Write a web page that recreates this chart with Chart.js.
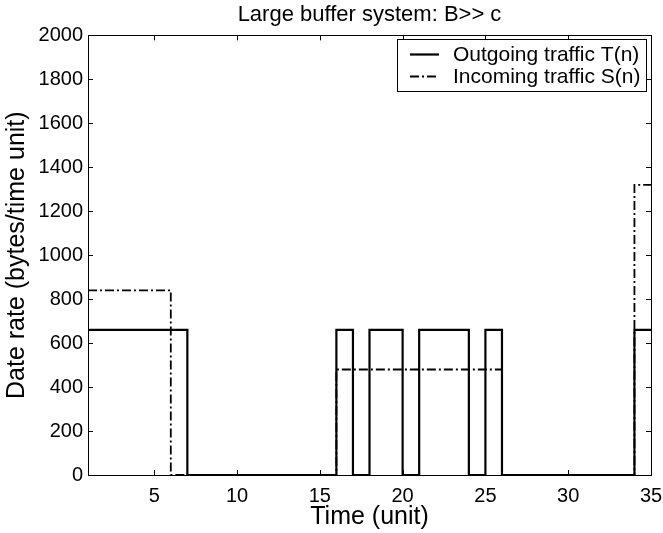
<!DOCTYPE html>
<html>
<head>
<meta charset="utf-8">
<script src="https://cdn.jsdelivr.net/npm/chart.js@4/dist/chart.umd.min.js"></script>
<style>
  html, body { margin: 0; padding: 0; background: #fff; }
  #wrap { width: 663px; height: 533px; position: relative; }
</style>
</head>
<body>
<div id="wrap"><canvas id="c" width="663" height="533"></canvas></div>
<script>
// ---- Data ----
const timeSteps = [1,2,3,4,5,6,7,8,9,10,11,12,13,14,15,16,17,18,19,20,21,22,23,24,25,26,27,28,29,30,31,32,33,34,35];
// value held over [n, n+1)
const outgoingT = [660,660,660,660,660,660,0,0,0,0,0,0,0,0,0,660,0,660,660,0,660,660,660,0,660,0,0,0,0,0,0,0,0,660,660];
const incomingS = [840,840,840,840,840,0,0,0,0,0,0,0,0,0,0,480,480,480,480,480,480,480,480,480,480,0,0,0,0,0,0,0,0,1320,1320];
const xTickValues = [5,10,15,20,25,30,35];
const yTickValues = [0,200,400,600,800,1000,1200,1400,1600,1800,2000];
const seriesLabels = ['Outgoing traffic T(n)', 'Incoming traffic S(n)'];
const titleText = 'Large buffer system: B>> c';
const xTitle = 'Time (unit)';
const yTitle = 'Date rate (bytes/time unit)';

const FONT = '"Liberation Sans", Arial, Helvetica, sans-serif';
const DASH = [9, 3, 2, 3];

const toPts = (xs, ys) => xs.map((x, i) => ({ x: x, y: ys[i] }));

const insideTicks = {
  id: 'insideTicks',
  afterDraw(chart) {
    const { ctx, chartArea: a, scales } = chart;
    ctx.save();
    ctx.strokeStyle = '#000';
    ctx.lineWidth = 1;
    const L = 5;
    ctx.beginPath();
    xTickValues.forEach(v => {
      const px = Math.round(scales.x.getPixelForValue(v)) + 0.5;
      ctx.moveTo(px, a.bottom); ctx.lineTo(px, a.bottom - L);
      ctx.moveTo(px, a.top); ctx.lineTo(px, a.top + L);
    });
    yTickValues.forEach(v => {
      const py = Math.round(scales.y.getPixelForValue(v)) + 0.5;
      ctx.moveTo(a.left, py); ctx.lineTo(a.left + L, py);
      ctx.moveTo(a.right, py); ctx.lineTo(a.right - L, py);
    });
    ctx.stroke();
    ctx.strokeRect(Math.round(a.left) + 0.5, Math.round(a.top) + 0.5,
                   Math.round(a.right - a.left), Math.round(a.bottom - a.top));
    ctx.restore();
  }
};

const boxLegend = {
  id: 'boxLegend',
  afterDraw(chart) {
    const { ctx, chartArea: a } = chart;
    ctx.save();
    const bx = 397, by = 39, bw = Math.round(a.right) - 397 - 5, bh = 52;
    ctx.fillStyle = '#fff';
    ctx.fillRect(bx, by, bw, bh);
    ctx.strokeStyle = '#000';
    ctx.lineWidth = 1;
    ctx.strokeRect(bx + 0.5, by + 0.5, bw, bh);
    ctx.font = '21px ' + FONT;
    ctx.fillStyle = '#000';
    ctx.textBaseline = 'middle';
    const rows = [by + 15, by + 37];
    chart.data.datasets.forEach((ds, i) => {
      ctx.beginPath();
      ctx.lineWidth = ds.borderWidth;
      ctx.setLineDash(ds.borderDash || []);
      ctx.moveTo(410, rows[i] + 0.5);
      ctx.lineTo(439, rows[i] + 0.5);
      ctx.stroke();
      ctx.setLineDash([]);
      ctx.fillText(ds.label, 453, rows[i] + 1);
    });
    ctx.restore();
  }
};

new Chart(document.getElementById('c'), {
  type: 'line',
  data: {
    datasets: [
      {
        label: seriesLabels[0],
        data: toPts(timeSteps, outgoingT),
        stepped: 'before',
        borderColor: '#000',
        borderWidth: 2.2,
        pointRadius: 0,
        fill: false
      },
      {
        label: seriesLabels[1],
        data: toPts(timeSteps, incomingS),
        stepped: 'before',
        borderColor: '#000',
        borderWidth: 1.8,
        borderDash: DASH,
        pointRadius: 0,
        fill: false
      }
    ]
  },
  options: {
    responsive: false,
    animation: false,
    layout: { padding: { left: 0, right: 12, top: 0, bottom: 0 } },
    plugins: {
      legend: { display: false },
      tooltip: { enabled: false },
      title: {
        display: true,
        fullSize: false,
        text: titleText,
        color: '#000',
        font: { family: FONT, size: 22, weight: 'normal' },
        padding: { top: 2, bottom: 7 }
      }
    },
    scales: {
      x: {
        type: 'linear',
        min: 1,
        max: 35,
        afterFit(s) { s.height = 58; s.paddingLeft = 0; s.paddingRight = 0; },
        afterBuildTicks(s) { s.ticks = xTickValues.map(v => ({ value: v })); },
        grid: { display: false, drawTicks: false },
        border: { display: false },
        ticks: { color: '#000', font: { family: FONT, size: 20 }, padding: 9, maxRotation: 0,
                 callback: v => String(v) },
        title: {
          display: true,
          text: xTitle,
          color: '#000',
          font: { family: FONT, size: 25 },
          padding: { top: 0, bottom: 1 }
        }
      },
      y: {
        min: 0,
        max: 2000,
        afterFit(s) { s.width = 88; s.paddingTop = 0; s.paddingBottom = 0; },
        afterBuildTicks(s) { s.ticks = yTickValues.map(v => ({ value: v })); },
        grid: { display: false, drawTicks: false },
        border: { display: false },
        ticks: { color: '#000', font: { family: FONT, size: 20 }, padding: 5,
                 callback: v => String(v) },
        title: {
          display: true,
          text: yTitle,
          color: '#000',
          font: { family: FONT, size: 25 },
          padding: { top: 2, bottom: 0 }
        }
      }
    }
  },
  plugins: [insideTicks, boxLegend]
});
</script>
</body>
</html>
